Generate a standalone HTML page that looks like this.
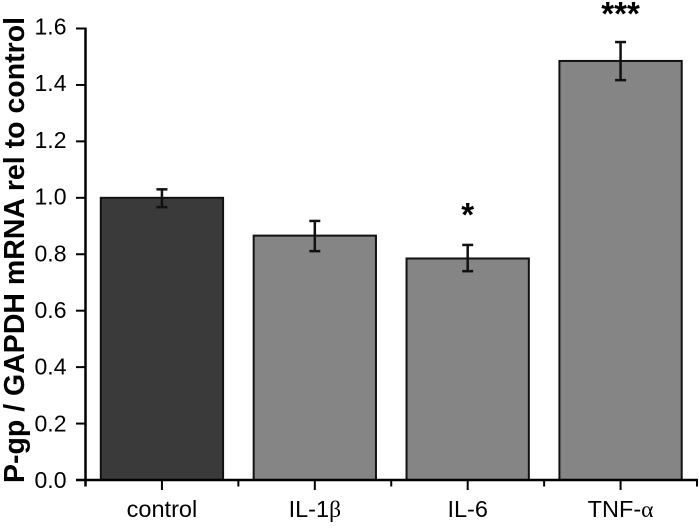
<!DOCTYPE html>
<html>
<head>
<meta charset="utf-8">
<style>
html,body{margin:0;padding:0;background:#fff;}
svg{display:block;}
text{font-family:"Liberation Sans",sans-serif;fill:#000;}
</style>
</head>
<body>
<svg id="chart" xmlns="http://www.w3.org/2000/svg" width="699" height="529" viewBox="0 0 699 529">
<text transform="translate(24,250) rotate(-90)" text-anchor="middle" font-size="28.5" font-weight="bold" style="font-weight:bold">P-gp / GAPDH mRNA rel to control</text>
</svg>
<script>
const categories = ['control', 'IL-1', 'IL-6', 'TNF-'];
const greekSuffix = ['', 'β', '', 'α'];
const values = [1.0, 0.866, 0.785, 1.485];
const errorHigh = [1.03, 0.918, 0.833, 1.552];
const errorLow = [0.967, 0.811, 0.74, 1.417];
const significance = ['', '', '*', '***'];
const significanceLevel = [0, 0, 0.9, 1.612];
const barColors = ['#3a3a3a', '#858585', '#858585', '#858585'];
const yTicks = [0, 0.2, 0.4, 0.6, 0.8, 1.0, 1.2, 1.4, 1.6];

const svg = document.getElementById('chart');
const NS = 'http://www.w3.org/2000/svg';
const xLeft = 85.5, xRight = 697, yBase = 480, yTop = 28.5, yMax = 1.6;
const step = (xRight - xLeft) / categories.length;
const x = i => xLeft + step * (i + 0.5);
const y = v => yBase - (yBase - yTop) * v / yMax;
const barWidth = step * 0.8;

function make(tag, attrs, text) {
  const el = document.createElementNS(NS, tag);
  for (const k in attrs) el.setAttribute(k, attrs[k]);
  if (text !== undefined) el.textContent = text;
  svg.appendChild(el);
  return el;
}

categories.forEach((c, i) => {
  const bar = make('rect', {x: x(i) - barWidth / 2, y: y(values[i]), width: barWidth, height: yBase - y(values[i]), fill: barColors[i], stroke: '#111', 'stroke-width': 2});
  
  

  const stem = make('line', {x1: x(i), x2: x(i), y1: y(errorHigh[i]), y2: y(errorLow[i]), stroke: '#111', 'stroke-width': 2.5});
  
  

  [errorHigh[i], errorLow[i]].forEach(v => {
    const cap = make('line', {x1: x(i) - 5.5, x2: x(i) + 5.5, y1: y(v), y2: y(v), stroke: '#111', 'stroke-width': 2.5});
    
    
  });

  if (significance[i]) {
    const star = make('text', {x: x(i), y: y(significanceLevel[i]), 'text-anchor': 'middle', 'font-size': 33, 'font-weight': 'bold', style: 'font-weight:bold'}, significance[i]);
    
    
  }

  const tick = make('line', {x1: x(i), x2: x(i), y1: yBase, y2: yBase + 10, stroke: '#000', 'stroke-width': 2});
  
  

  const label = make('text', {x: x(i), y: 517, 'text-anchor': 'middle', 'font-size': 23.5}, c);
  
  
  if (greekSuffix[i]) {
    const greek = document.createElementNS(NS, 'tspan');
    greek.setAttribute('style', 'font-family:"Liberation Serif",serif');
    greek.textContent = greekSuffix[i];
    label.appendChild(greek);
  }
});

for (let i = 0; i <= categories.length; i++) {
  const minor = make('line', {x1: xLeft + step * i, x2: xLeft + step * i, y1: yBase, y2: yBase + 6.5, stroke: '#000', 'stroke-width': 2});
  
  
}

yTicks.forEach(t => {
  const tick = make('line', {x1: 76, x2: xLeft, y1: y(t), y2: y(t), stroke: '#000', 'stroke-width': 2});
  
  

  const label = make('text', {x: 66.5, y: 488 - (yBase - y(t)) * 1.0044, 'text-anchor': 'end', 'font-size': 23}, t.toFixed(1));
  
  
});

const yAxis = make('line', {x1: xLeft, x2: xLeft, y1: yTop - 1, y2: yBase + 6.5, stroke: '#000', 'stroke-width': 2.5});



const xAxis = make('line', {x1: 76, x2: xRight + 1, y1: yBase, y2: yBase, stroke: '#000', 'stroke-width': 2.5});


</script>
</body>
</html>
